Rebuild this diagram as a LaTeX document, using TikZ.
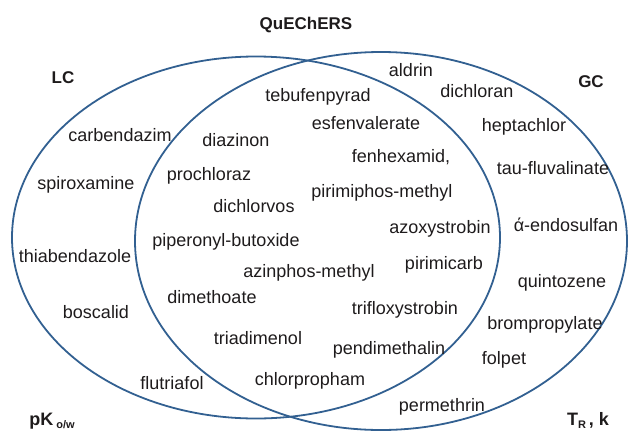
\documentclass[tikz,border=0pt]{standalone}
\usepackage{fontspec}
\setmainfont{Liberation Sans}
\usepackage{tikz}
\usetikzlibrary{arrows.meta, positioning, shapes.geometric, calc}

\definecolor{setblue}{RGB}{50,96,145}
\definecolor{ink}{RGB}{30,27,28}

\begin{document}
\begin{tikzpicture}[x=1pt, y=-1pt,
    setline/.style={ellipse, draw=setblue, line width=1.8pt, inner sep=0pt},
    lbl/.style={anchor=base, inner sep=0pt, text=ink, font=\fontsize{18}{21}\selectfont},
    hdr/.style={anchor=base, inner sep=0pt, text=ink, font=\bfseries\fontsize{17}{20}\selectfont},
    axis/.style={anchor=base, inner sep=0pt, text=ink, font=\bfseries\fontsize{18}{21}\selectfont}]

        \useasboundingbox (0,0) rectangle (630,432);

        % Sets
        \node[setline, minimum width=488pt, minimum height=362pt] (lc) at (256,237.5) {};
        \node[setline, minimum width=492pt, minimum height=378pt] (gc) at (381,241) {};

        % Headings
        \node[hdr] (quechers) at (306,29) {QuEChERS};
        \node[hdr] (lcLabel) at (63,83) {LC};
        \node[hdr] (gcLabel) at (591,87) {GC};
        \node[axis] (pkow) at (52,425) {pK\,\raisebox{-3pt}{\fontsize{11}{13}\selectfont o/w}};
        \node[axis] (trk) at (588,425) {T\raisebox{-3pt}{\fontsize{11}{13}\selectfont R}\,, k};

        % LC only
        \node[lbl] (carbendazim) at (120,141) {carbendazim};
        \node[lbl] (spiroxamine) at (86,189) {spiroxamine};
        \node[lbl] (thiabendazole) at (75,262) {thiabendazole};
        \node[lbl] (boscalid) at (96,318) {boscalid};
        \node[lbl] (flutriafol) at (172,389) {flutriafol};

        % LC and GC
        \node[lbl] (tebufenpyrad) at (318,101) {tebufenpyrad};
        \node[lbl] (diazinon) at (236,146) {diazinon};
        \node[lbl] (esfenvalerate) at (366,129) {esfenvalerate};
        \node[lbl] (fenhexamid) at (401,162) {fenhexamid,};
        \node[lbl] (prochloraz) at (209,180) {prochloraz};
        \node[lbl] (pirimiphos) at (382,197) {pirimiphos-methyl};
        \node[lbl] (dichlorvos) at (254,212) {dichlorvos};
        \node[lbl] (azoxystrobin) at (440,233) {azoxystrobin};
        \node[lbl] (piperonyl) at (226,246) {piperonyl-butoxide};
        \node[lbl] (pirimicarb) at (444,269) {pirimicarb};
        \node[lbl] (azinphos) at (309,277) {azinphos-methyl};
        \node[lbl] (dimethoate) at (212,303) {dimethoate};
        \node[lbl] (trifloxystrobin) at (405,314) {trifloxystrobin};
        \node[lbl] (triadimenol) at (258,344) {triadimenol};
        \node[lbl] (pendimethalin) at (389,354) {pendimethalin};
        \node[lbl] (chlorpropham) at (310,385) {chlorpropham};

        % GC only
        \node[lbl] (aldrin) at (411,76) {aldrin};
        \node[lbl] (dichloran) at (477,97) {dichloran};
        \node[lbl] (heptachlor) at (524,131) {heptachlor};
        \node[lbl] (taufluvalinate) at (553,174) {tau-fluvalinate};
        \node[lbl] (endosulfan) at (566,231) {ά-endosulfan};
        \node[lbl] (quintozene) at (562,287) {quintozene};
        \node[lbl] (brompropylate) at (545,329) {brompropylate};
        \node[lbl] (folpet) at (504,364) {folpet};
        \node[lbl] (permethrin) at (442,411) {permethrin};

    \end{tikzpicture}
\end{document}
